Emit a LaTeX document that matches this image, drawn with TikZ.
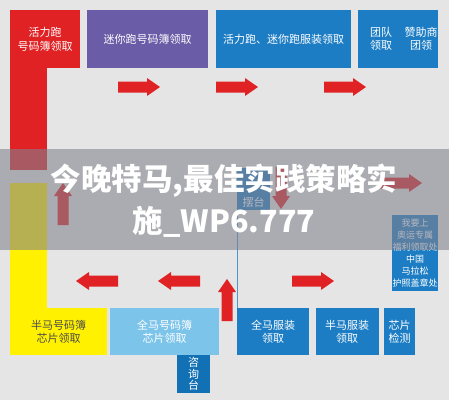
\documentclass[tikz,border=0pt]{standalone}
\usepackage{fontspec}
\newfontfamily\cjk{Noto Sans CJK SC}
\usetikzlibrary{positioning}
\usepackage{xcolor}
\definecolor{bggray}{RGB}{229,229,229}
\definecolor{runred}{RGB}{224,34,36}
\definecolor{minipurple}{RGB}{106,92,166}
\definecolor{boxblue}{RGB}{28,125,196}
\definecolor{chipblue}{RGB}{125,196,235}
\definecolor{deskblue}{RGB}{18,113,181}
\definecolor{halfyellow}{RGB}{255,241,0}
\definecolor{bandgray}{RGB}{130,130,142}

\tikzset{
  box/.style={fill=boxblue, text=white, align=center, inner sep=0pt, anchor=north west,
    font=\cjk\fontsize{11}{13.5}\selectfont},
  smallbox/.style={box, font=\cjk\fontsize{9}{12}\selectfont},
  rarr/.pic={\fill[runred] (0,-5.5) -- (29,-5.5) -- (29,-9) -- (42,0) -- (29,9) -- (29,5.5) -- (0,5.5) -- cycle;}
}

\begin{document}
\begin{tikzpicture}[x=1pt,y=-1pt]
\fill[bggray] (0,0) rectangle (449,400);
\useasboundingbox (0,0) rectangle (449,400);

\fill[runred] (10,60) rectangle (47,170);
\node[box, fill=runred, minimum width=70, minimum height=58] (huoli) at (10,10) {活力跑\\号码簿领取};
\node[box, fill=minipurple, minimum width=121, minimum height=58] (mini) at (87,10) {迷你跑号码簿领取};
\node[box, minimum width=135, minimum height=58] (fuzhuang) at (216,10) {活力跑、迷你跑服装领取};
\node[box, minimum width=80, minimum height=58] (tuandui) at (358,10) {};
\node[font=\cjk\fontsize{11}{13.5}\selectfont, text=white, align=center] at (381,39) {团队\\领取};
\node[font=\cjk\fontsize{11}{13.5}\selectfont, text=white, align=center] at (421,39) {赞助商\\团领};

\pic at (118,87) {rarr};
\pic at (216,87) {rarr};
\pic at (324,87) {rarr};

\fill[halfyellow] (10,183) rectangle (47,320);
\node[box, fill=halfyellow, text=black!70, minimum width=97, minimum height=47] (banma) at (10,308) {半马号码簿\\芯片领取};
\node[box, fill=chipblue, minimum width=109, minimum height=47] (quanma) at (110,308) {全马号码簿\\芯片领取};
\node[box, fill=deskblue, minimum width=33, minimum height=38] (zixun) at (177,355) {咨\\[-2pt]询\\[-2pt]台};
\node[box, minimum width=72, minimum height=47] (quanmafz) at (237,308) {全马服装\\领取};
\node[box, minimum width=63, minimum height=47, right=6 of quanmafz.north east, anchor=north west] (banmafz) {半马服装\\领取};
\node[box, minimum width=31, minimum height=47, right=5 of banmafz.north east, anchor=north west] (xinpian) {芯片\\检测};

\node[box, minimum width=33, minimum height=42] (baitai) at (237,168) {};
\node[font=\cjk\fontsize{11}{13.5}\selectfont, text=white] at (253.5,202) {摆台};
\draw[boxblue!80, line width=1pt] (baitai.south west) -- (quanmafz.north west);

\node[smallbox, minimum width=46, minimum height=40] (aoyun) at (392,215) {我要上\\奥运专属\\福利领取处};
\node[smallbox, minimum width=46, minimum height=39, below=4 of aoyun.south west, anchor=north west] (huzhao) {中国\\马拉松\\护照盖章处};

\pic[rotate=180] at (118,281) {rarr};
\pic[rotate=180] at (200,281) {rarr};
\pic[rotate=90] at (227,321) {rarr};
\pic at (292,281) {rarr};
\pic[rotate=90] at (63,225) {rarr};
\pic[rotate=-90] at (281,167) {rarr};
\pic at (380,183) {rarr};

\fill[bandgray, opacity=0.58] (0,149) rectangle (449,250);
\node[text=white, font=\cjk\bfseries\fontsize{30.5}{36}\selectfont] (title1) at (224,181) {今晚特马,最佳实践策略实};
\node[text=white, font=\cjk\bfseries\fontsize{30.5}{36}\selectfont] (title2) at (224,222) {施\_WP6.777};
\end{tikzpicture}
\end{document}
